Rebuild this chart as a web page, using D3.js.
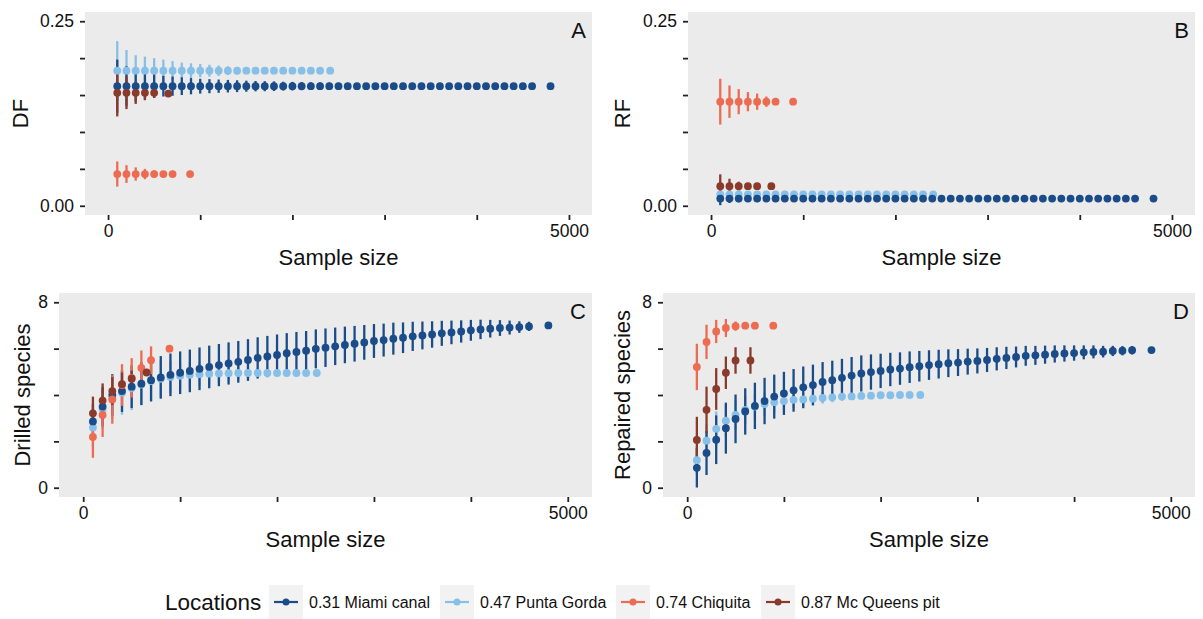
<!DOCTYPE html>
<html>
<head>
<meta charset="utf-8">
<script src="https://cdn.jsdelivr.net/npm/d3@7"></script>
<style>
  body { margin: 0; background: #fff; }
  svg { font-family: "Liberation Sans", Arial, sans-serif; }
</style>
</head>
<body>
<div id="chart"></div>
<script>
// Rarefied drilling / repair frequencies by location

const width = 1203;
const height = 619;

// Locations (legend order) and colours
const locations = ["0.31 Miami canal", "0.47 Punta Gorda", "0.74 Chiquita", "0.87 Mc Queens pit"];
const colors = ["#1a4c89", "#86bfe7", "#ed6b50", "#8a3a2b"];

// Sample sizes of each location (subsamples of 100, last one = full sample)
const miamiN = [100,200,300,400,500,600,700,800,900,1000,1100,1200,1300,1400,1500,1600,1700,1800,1900,2000,
  2100,2200,2300,2400,2500,2600,2700,2800,2900,3000,3100,3200,3300,3400,3500,3600,3700,3800,3900,4000,
  4100,4200,4300,4400,4500,4600,4800];
const puntaN = [100,200,300,400,500,600,700,800,900,1000,1100,1200,1300,1400,1500,1600,1700,1800,1900,2000,
  2100,2200,2300,2410];
const chiquitaN = [100,200,300,400,500,600,700,890];
const mcqueensN = [100,200,300,400,500,654];

// Panel A: DF
const dfMiami = [0.162,0.162,0.162,0.162,0.162,0.162,0.162,0.162,0.162,0.162,0.162,0.162,0.162,0.162,0.162,0.162,
  0.162,0.162,0.162,0.162,0.162,0.162,0.162,0.162,0.162,0.162,0.162,0.162,0.162,0.162,0.162,0.162,0.162,0.162,
  0.162,0.162,0.162,0.162,0.162,0.162,0.162,0.162,0.162,0.162,0.162,0.162,0.162];
const dfMiamiErr = [0.036,0.027,0.021,0.018,0.016,0.014,0.013,0.012,0.011,0.010,0.0095,0.009,0.0085,0.008,0.0075,
  0.007,0.0068,0.0065,0.006,0.0058,0.0055,0.0052,0.005,0.0048,0.0045,0.0043,0.004,0.0038,0.0036,0.0034,0.0032,
  0.003,0.0028,0.0026,0.0024,0.0022,0.002,0.0018,0.0016,0.0014,0.0012,0.001,0.0008,0.0006,0.0004,0.0002,0];
const dfPunta = [0.183,0.183,0.183,0.183,0.183,0.183,0.183,0.183,0.183,0.183,0.183,0.183,0.183,0.183,0.183,0.183,
  0.183,0.183,0.183,0.183,0.183,0.183,0.183,0.183];
const dfPuntaErr = [0.040,0.028,0.021,0.019,0.017,0.015,0.013,0.011,0.010,0.009,0.008,0.007,0.006,0.005,0.0045,
  0.004,0.0035,0.003,0.0025,0.002,0.0015,0.001,0.0005,0];
const dfChiquita = [0.043,0.043,0.043,0.043,0.043,0.043,0.043,0.043];
const dfChiquitaErr = [0.017,0.012,0.009,0.007,0.005,0.004,0.003,0];
const dfMcqueens = [0.153,0.153,0.153,0.153,0.153,0.152];
const dfMcqueensErr = [0.032,0.022,0.015,0.010,0.007,0];

// Panel B: RF
const rfMiami = [0.0098,0.0098,0.0098,0.0098,0.0098,0.0098,0.0098,0.0098,0.0098,0.0098,0.0098,0.0098,0.0098,
  0.0098,0.0098,0.0098,0.0098,0.0098,0.0098,0.0098,0.0098,0.0098,0.0098,0.0098,0.0098,0.0098,0.0098,0.0098,
  0.0098,0.0098,0.0098,0.0098,0.0098,0.0098,0.0098,0.0098,0.0098,0.0098,0.0098,0.0098,0.0098,0.0098,0.0098,
  0.0098,0.0098,0.0098,0.0098];
const rfMiamiErr = [0.009,0.006,0.005,0.0042,0.0037,0.0033,0.003,0.0028,0.0026,0.0024,0.0022,0.002,0.0019,0.0018,
  0.0017,0.0016,0.0015,0.0014,0.0013,0.0012,0.0011,0.001,0.001,0.0009,0.0009,0.0008,0.0008,0.0007,0.0007,0.0006,
  0.0006,0.0005,0.0005,0.0004,0.0004,0.0003,0.0003,0.0003,0.0002,0.0002,0.0002,0.0001,0.0001,0.0001,0.0001,0,0];
const rfPunta = [0.0155,0.0155,0.0155,0.0155,0.0155,0.0155,0.0155,0.0155,0.0155,0.0155,0.0155,0.0155,0.0155,
  0.0155,0.0155,0.0155,0.0155,0.0155,0.0155,0.0155,0.0155,0.0155,0.0155,0.0155];
const rfPuntaErr = [0.007,0.005,0.004,0.0035,0.003,0.0028,0.0025,0.0022,0.002,0.0018,0.0016,0.0014,0.0012,0.001,
  0.0009,0.0008,0.0007,0.0006,0.0005,0.0004,0.0003,0.0002,0.0001,0];
const rfChiquita = [0.141,0.141,0.141,0.141,0.141,0.141,0.141,0.141];
const rfChiquitaErr = [0.031,0.022,0.017,0.013,0.011,0.007,0.004,0];
const rfMcqueens = [0.0266,0.0266,0.0266,0.0266,0.0266,0.0266];
const rfMcqueensErr = [0.016,0.010,0.006,0.004,0.002,0];

// Panel C: drilled species
const drMiami = [2.86,3.5,4.0,4.17,4.36,4.49,4.64,4.76,4.87,4.96,5.04,5.13,5.21,5.29,5.36,5.43,5.51,5.6,5.66,5.73,
  5.8,5.86,5.91,5.99,6.04,6.1,6.16,6.21,6.27,6.33,6.37,6.43,6.47,6.53,6.57,6.61,6.66,6.7,6.74,6.79,
  6.83,6.86,6.89,6.91,6.93,6.96,7.0];
const drMiamiErr = [0.75,0.85,0.9,0.9,0.92,0.92,0.92,0.92,0.92,0.92,0.92,0.92,0.92,0.91,0.91,0.9,0.9,0.89,0.89,0.88,
  0.87,0.86,0.85,0.84,0.83,0.81,0.79,0.77,0.75,0.73,0.71,0.69,0.66,0.63,0.6,0.57,0.54,0.51,0.48,0.45,
  0.42,0.38,0.34,0.3,0.25,0.2,0];
const drPunta = [2.6,3.4,3.85,4.1,4.3,4.45,4.6,4.7,4.78,4.83,4.87,4.9,4.92,4.93,4.94,4.95,4.95,4.95,4.95,4.95,
  4.95,4.95,4.95,4.95];
const drPuntaErr = [0.8,0.85,0.9,0.95,0.95,0.9,0.85,0.8,0.7,0.6,0.55,0.5,0.45,0.4,0.35,0.3,0.25,0.2,0.15,0.12,
  0.08,0.05,0.02,0];
const drChiquita = [2.19,3.14,3.81,4.43,4.74,5.17,5.5,6.0];
const drChiquitaErr = [0.9,0.95,1.05,0.9,0.85,0.75,0.6,0];
const drMcqueens = [3.21,3.76,4.17,4.47,4.7,4.97];
const drMcqueensErr = [0.72,0.74,0.6,0.5,0.35,0];

// Panel D: repaired species
const repMiami = [0.86,1.5,2.07,2.57,2.97,3.29,3.53,3.74,3.93,4.07,4.2,4.33,4.43,4.56,4.64,4.74,4.84,4.93,4.99,5.04,
  5.1,5.14,5.2,5.24,5.29,5.33,5.37,5.4,5.44,5.47,5.51,5.56,5.6,5.64,5.69,5.71,5.74,5.77,5.79,5.81,
  5.84,5.86,5.87,5.9,5.91,5.93,5.94];
const repMiamiErr = [0.85,0.95,1.05,1.1,1.05,1.0,1.0,1.0,0.95,0.93,0.92,0.9,0.88,0.86,0.84,0.82,0.8,0.78,0.76,0.74,
  0.72,0.7,0.68,0.66,0.64,0.62,0.6,0.58,0.56,0.54,0.52,0.5,0.48,0.45,0.43,0.41,0.39,0.37,0.35,0.33,
  0.3,0.28,0.25,0.22,0.2,0.18,0.12];
const repPunta = [1.19,2.03,2.54,2.89,3.14,3.36,3.5,3.61,3.69,3.74,3.79,3.81,3.84,3.87,3.9,3.93,3.94,3.96,3.97,3.99,
  3.99,4.0,4.0,4.0];
const repPuntaErr = [0.6,0.7,0.75,0.7,0.65,0.6,0.55,0.5,0.45,0.4,0.35,0.3,0.27,0.24,0.21,0.18,0.15,0.12,0.1,0.08,
  0.06,0.04,0.02,0];
const repChiquita = [5.21,6.29,6.74,6.89,6.97,6.99,6.99,6.99];
const repChiquitaErr = [1.0,0.74,0.5,0.39,0.2,0.05,0,0];
const repMcqueens = [2.06,3.36,4.26,4.96,5.49,5.49];
const repMcqueensErr = [1.0,1.0,0.9,0.7,0.57,0.57];

// Axis ticks
const xTicks = [0,1000,2000,3000,4000,5000];
const fracTicks = [0,0.05,0.10,0.15,0.20,0.25];
const speciesTicks = [0,2,4,6,8];

// helper: build rows for one location
function rows(ns, means, errs) {
  return ns.map((n, i) => ({ n: n, m: means[i], e: errs[i] }));
}

// series order per panel matches the legend order (index into colors)
const panels = [
  { letter: "A", ytitle: "DF", yMax: 0.25, ticks: fracTicks, fmt: d3.format(".2f"),
    box: {x0: 85, x1: 592, y0: 12, y1: 215}, titleX: 20,
    series: [rows(miamiN, dfMiami, dfMiamiErr), rows(puntaN, dfPunta, dfPuntaErr),
             rows(chiquitaN, dfChiquita, dfChiquitaErr), rows(mcqueensN, dfMcqueens, dfMcqueensErr)] },
  { letter: "B", ytitle: "RF", yMax: 0.25, ticks: fracTicks, fmt: d3.format(".2f"),
    box: {x0: 688, x1: 1195, y0: 12, y1: 215}, titleX: 622,
    series: [rows(miamiN, rfMiami, rfMiamiErr), rows(puntaN, rfPunta, rfPuntaErr),
             rows(chiquitaN, rfChiquita, rfChiquitaErr), rows(mcqueensN, rfMcqueens, rfMcqueensErr)] },
  { letter: "C", ytitle: "Drilled species", yMax: 8, ticks: speciesTicks, fmt: d3.format("d"),
    box: {x0: 59, x1: 592, y0: 293, y1: 497}, titleX: 22,
    series: [rows(miamiN, drMiami, drMiamiErr), rows(puntaN, drPunta, drPuntaErr),
             rows(chiquitaN, drChiquita, drChiquitaErr), rows(mcqueensN, drMcqueens, drMcqueensErr)] },
  { letter: "D", ytitle: "Repaired species", yMax: 8, ticks: speciesTicks, fmt: d3.format("d"),
    box: {x0: 663, x1: 1195, y0: 293, y1: 497}, titleX: 622,
    series: [rows(miamiN, repMiami, repMiamiErr), rows(puntaN, repPunta, repPuntaErr),
             rows(chiquitaN, repChiquita, repChiquitaErr), rows(mcqueensN, repMcqueens, repMcqueensErr)] }
];

const svg = d3.select("#chart")
  .append("svg")
  .attr("width", width)
  .attr("height", height);

// draw order: light blue first so the dark blue bars sit on it
const drawOrder = [1, 0, 2, 3];

panels.forEach(p => {
  const b = p.box;
  // ggplot-style 5% expansion
  const x = d3.scaleLinear().domain([-250, 5250]).range([b.x0, b.x1]);
  const pad = p.yMax * 0.05;
  const y = d3.scaleLinear().domain([-pad, p.yMax + pad]).range([b.y1, b.y0]);

  const g = svg.append("g");

  g.append("rect")
    .attr("x", b.x0).attr("y", b.y0)
    .attr("width", b.x1 - b.x0).attr("height", b.y1 - b.y0)
    .attr("fill", "#ebebeb");

  // y axis
  const yAxis = g.append("g")
    .attr("transform", `translate(${b.x0},0)`)
    .call(d3.axisLeft(y).tickValues(p.ticks).tickSize(5).tickPadding(6)
      .tickFormat(d => (d === 0 || d === p.yMax) ? p.fmt(d) : ""));
  yAxis.select(".domain").remove();

  // x axis
  const xAxis = g.append("g")
    .attr("transform", `translate(0,${b.y1})`)
    .call(d3.axisBottom(x).tickValues(xTicks).tickSize(5).tickPadding(5)
      .tickFormat(d => (d === 0 || d === 5000) ? d : ""));
  xAxis.select(".domain").remove();

  g.selectAll(".tick line").attr("stroke", "#222").attr("stroke-width", 1.8);
  g.selectAll(".tick text").attr("fill", "#111").attr("font-size", 17.5)
    .attr("font-family", "'Liberation Sans', Arial, sans-serif");

  // error bars
  drawOrder.forEach(k => {
    g.append("g").selectAll("line")
      .data(p.series[k].filter(d => d.e > 0))
      .join("line")
      .attr("x1", d => x(d.n)).attr("x2", d => x(d.n))
      .attr("y1", d => y(d.m - d.e)).attr("y2", d => y(d.m + d.e))
      .attr("stroke", colors[k])
      .attr("stroke-width", 2.3);
  });

  // points
  drawOrder.forEach(k => {
    g.append("g").selectAll("circle")
      .data(p.series[k])
      .join("circle")
      .attr("cx", d => x(d.n)).attr("cy", d => y(d.m))
      .attr("r", 3.9)
      .attr("fill", colors[k]);
  });

  // panel letter
  g.append("text")
    .attr("x", b.x1 - 6).attr("y", b.y0 + 26)
    .attr("text-anchor", "end")
    .attr("font-size", 22)
    .attr("fill", "#111")
    .text(p.letter);

  // axis titles
  g.append("text")
    .attr("x", (x(0) + x(5000)) / 2).attr("y", b.y1 + 50)
    .attr("text-anchor", "middle")
    .attr("font-size", 22)
    .attr("fill", "#111")
    .text("Sample size");

  g.append("text")
    .attr("transform", `translate(${p.titleX + 8},${(b.y0 + b.y1) / 2}) rotate(-90)`)
    .attr("text-anchor", "middle")
    .attr("font-size", 22)
    .attr("fill", "#111")
    .text(p.ytitle);
});

// legend
const legend = svg.append("g");
legend.append("text")
  .attr("x", 165).attr("y", 610)
  .attr("font-size", 22.5)
  .attr("fill", "#111")
  .text("Locations");

const keyX = [269, 440, 616, 761];
locations.forEach((name, i) => {
  const kx = keyX[i];
  legend.append("rect")
    .attr("x", kx).attr("y", 585)
    .attr("width", 34).attr("height", 34)
    .attr("fill", "#f2f2f2");
  legend.append("line")
    .attr("x1", kx + 5).attr("x2", kx + 29)
    .attr("y1", 602).attr("y2", 602)
    .attr("stroke", colors[i]).attr("stroke-width", 2.2);
  legend.append("circle")
    .attr("cx", kx + 17).attr("cy", 602).attr("r", 3.5)
    .attr("fill", colors[i]);
  legend.append("text")
    .attr("x", kx + 40).attr("y", 607.5)
    .attr("font-size", 16)
    .attr("fill", "#111")
    .text(name);
});
</script>
</body>
</html>
